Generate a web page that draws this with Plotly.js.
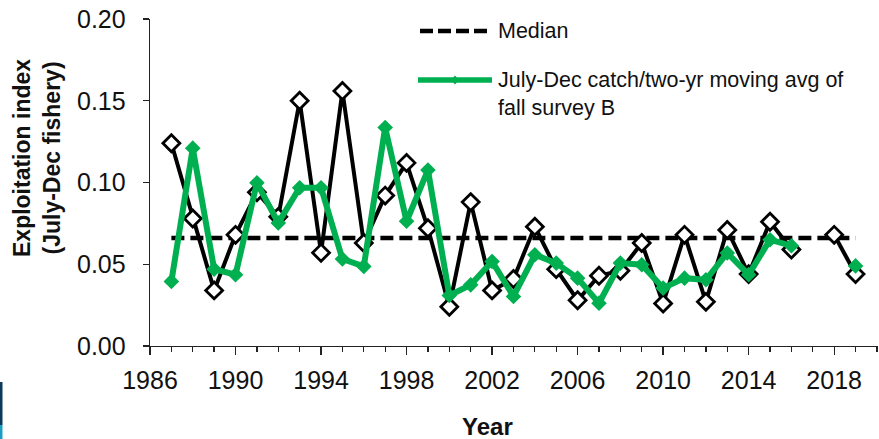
<!DOCTYPE html>
<html>
<head>
<meta charset="utf-8">
<script src="https://cdn.plot.ly/plotly-3.0.1.min.js"></script>
<style>
  html, body { margin: 0; padding: 0; background: #fff; }
  #chart { width: 879px; height: 439px; }
</style>
</head>
<body>
<div id="chart"></div>
<script>
// ---- data ----
const years = [1987,1988,1989,1990,1991,1992,1993,1994,1995,1996,1997,1998,1999,2000,2001,2002,2003,2004,2005,2006,2007,2008,2009,2010,2011,2012,2013,2014,2015,2016,2017,2018,2019];

const exploitationIndex = [0.124,0.078,0.034,0.068,0.094,0.079,0.150,0.057,0.156,0.063,0.092,0.112,0.072,0.024,0.088,0.034,0.041,0.073,0.047,0.028,0.043,0.046,0.063,0.026,0.068,0.027,0.071,0.044,0.076,0.059,null,0.068,0.044];

const movingAvgIndex = [0.0395,0.121,0.047,0.0436,0.0998,0.0753,0.0968,0.0968,0.0532,0.0487,0.1336,0.0763,0.1076,0.0309,0.0374,0.0517,0.0303,0.0558,0.0507,0.0415,0.0262,0.0507,0.0497,0.0354,0.0415,0.0405,0.0569,0.0436,0.065,0.0613,null,null,0.049];

const medianYears = [1987, 2019];
const medianValue = 0.066;

const xTickVals = [1986,1990,1994,1998,2002,2006,2010,2014,2018];
const yTickVals = [0, 0.05, 0.10, 0.15, 0.20];

const legendMedian = 'Median';
const legendGreen = 'July-Dec catch/two-yr moving avg of<br>fall survey B';
const yTitle = 'Exploitation index<br>(July-Dec fishery)';
const xTitle = 'Year';

// ---- layout helpers ----
const W = 879, H = 439;
const M = {l: 150, r: 1, t: 19, b: 93};
const PW = W - M.l - M.r, PH = H - M.t - M.b;
const px = x => (x - M.l) / PW;          // pixel -> paper x
const py = y => (H - M.b - y) / PH;      // pixel -> paper y
const GREEN = '#00b050';
const FONT = 'Liberation Sans, Arial, sans-serif';

const traces = [
  {
    x: medianYears.map(v => v), y: medianYears.map(() => medianValue),
    type: 'scatter', mode: 'lines', name: legendMedian,
    line: {color: '#000', width: 4.5, dash: '13px,6px'},
    hoverinfo: 'skip'
  },
  {
    x: years, y: exploitationIndex,
    type: 'scatter', mode: 'lines+markers', connectgaps: false,
    line: {color: '#000', width: 4},
    marker: {symbol: 'diamond', size: 13, color: '#fff', line: {color: '#000', width: 2.8}}
  },
  {
    x: years, y: movingAvgIndex,
    type: 'scatter', mode: 'lines+markers', connectgaps: false,
    line: {color: GREEN, width: 6},
    marker: {symbol: 'diamond', size: 12, color: GREEN}
  }
];

// legend drawn by hand
const lgMedY = py(31), lgGrY = py(80);
const dx = 4 / PW, dy = 4.5 / PH, lgDX = px(455);
const shapes = [
  {type: 'line', xref: 'paper', yref: 'paper', x0: px(420), x1: px(490), y0: lgMedY, y1: lgMedY,
   line: {color: '#000', width: 4.5, dash: '13px,5px'}},
  {type: 'line', xref: 'paper', yref: 'paper', x0: px(418), x1: px(492), y0: lgGrY, y1: lgGrY,
   line: {color: GREEN, width: 5.5}},
  {type: 'path', xref: 'paper', yref: 'paper',
   path: `M ${lgDX - dx} ${lgGrY} L ${lgDX} ${lgGrY + dy} L ${lgDX + dx} ${lgGrY} L ${lgDX} ${lgGrY - dy} Z`,
   fillcolor: GREEN, line: {width: 0}},
  // small artifact at the lower left edge
  {type: 'rect', xref: 'paper', yref: 'paper', x0: px(0), x1: px(2.5), y0: py(425), y1: py(382),
   fillcolor: '#0b3a5c', line: {width: 0}},
  {type: 'rect', xref: 'paper', yref: 'paper', x0: px(0), x1: px(2.5), y0: py(439), y1: py(425),
   fillcolor: '#1c9ec0', line: {width: 0}}
];

const annotations = [
  {text: legendMedian, xref: 'paper', yref: 'paper', x: px(496), y: lgMedY, xanchor: 'left', yanchor: 'middle',
   showarrow: false, font: {family: FONT, size: 21.5, color: '#111'}},
  {text: legendGreen, xref: 'paper', yref: 'paper', x: px(496), y: py(80), xanchor: 'left', yanchor: 'top',
   yshift: 14, showarrow: false, align: 'left', font: {family: FONT, size: 21.5, color: '#111'}},
  {text: '<b>' + yTitle.replace('<br>', '</b><br><b>') + '</b>', xref: 'paper', yref: 'paper', x: px(37), y: py(158),
   xanchor: 'center', yanchor: 'middle', textangle: -90, showarrow: false,
   font: {family: FONT, size: 23, color: '#111'}},
  {text: '<b>' + xTitle + '</b>', xref: 'paper', yref: 'paper', x: px(487), y: py(426),
   xanchor: 'center', yanchor: 'middle', showarrow: false,
   font: {family: FONT, size: 24, color: '#111'}}
];

const layout = {
  width: W, height: H,
  margin: M,
  paper_bgcolor: '#fff', plot_bgcolor: '#fff',
  showlegend: false,
  font: {family: FONT, color: '#111'},
  xaxis: {
    range: [1986, 2020.05], tickmode: 'array', tickvals: xTickVals,
    ticks: 'outside', ticklen: 8, tickwidth: 1.3, tickcolor: '#222',
    minor: {dtick: 1, tick0: 1986, ticks: 'outside', ticklen: 5, tickwidth: 1.3, tickcolor: '#222'},
    showline: true, linecolor: '#222', linewidth: 1.3, showgrid: false, zeroline: false,
    tickfont: {family: FONT, size: 25, color: '#111'}, ticklabelstandoff: 4
  },
  yaxis: {
    range: [0, 0.2], tickmode: 'array', tickvals: yTickVals, tickformat: '.2f',
    ticks: 'outside', ticklen: 6, tickwidth: 1.3, tickcolor: '#222',
    showline: true, linecolor: '#222', linewidth: 1.3, showgrid: false, zeroline: false,
    tickfont: {family: FONT, size: 25, color: '#111'}, ticklabelstandoff: 12
  },
  shapes: shapes,
  annotations: annotations
};

Plotly.newPlot('chart', traces, layout, {displayModeBar: false, staticPlot: true});
</script>
</body>
</html>
